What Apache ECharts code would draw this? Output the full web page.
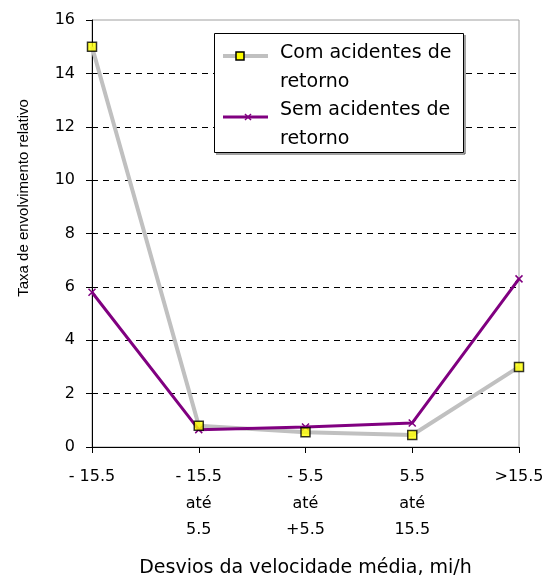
<!DOCTYPE html>
<html><head><meta charset="utf-8">
<script src="https://cdn.jsdelivr.net/npm/echarts@6/dist/echarts.min.js"></script>
<style>html,body{margin:0;padding:0;background:#fff}#c{width:546px;height:577px}</style>
</head><body><div id="c"></div>
<script>
var categories = ['- 15.5', '- 15.5\naté\n5.5', '- 5.5\naté\n+5.5', '5.5\naté\n15.5', '>15.5'];
var comRetorno = [15.0, 0.8, 0.55, 0.45, 3.0];
var semRetorno = [5.8, 0.65, 0.75, 0.9, 6.3];
var yTicks = {min: 0, max: 16, interval: 2};
var seriesNames = ['Com acidentes de\nretorno', 'Sem acidentes de\nretorno'];
var xTitle = 'Desvios da velocidade média, mi/h';
var yTitle = 'Taxa de envolvimento relativo';

var wide = '"DejaVu Sans", sans-serif';
var narrow = '"Liberation Sans", Arial, sans-serif';
var chart = echarts.init(document.getElementById('c'), null, {renderer: 'canvas'});
chart.setOption({
  animation: false,
  backgroundColor: '#fff',
  grid: {left: 92, right: 27, top: 20, bottom: 130, show: true, borderColor: '#a0a0a0', borderWidth: 1,
         containLabel: false, outerBoundsMode: 'none'},
  xAxis: {
    type: 'category', boundaryGap: false, data: categories,
    axisLine: {lineStyle: {color: '#000', width: 1}},
    axisTick: {alignWithLabel: true, length: 6, lineStyle: {color: '#000'}},
    axisLabel: {fontFamily: wide, fontSize: 16, color: '#000', margin: 17, lineHeight: 26.5, interval: 0},
    name: xTitle, nameLocation: 'middle', nameGap: 112,
    nameTextStyle: {fontFamily: wide, fontSize: 19, color: '#000'}
  },
  yAxis: {
    type: 'value', min: yTicks.min, max: yTicks.max, interval: yTicks.interval,
    axisLine: {show: true, lineStyle: {color: '#000', width: 1}},
    axisTick: {show: true, length: 6, lineStyle: {color: '#000'}},
    axisLabel: {fontFamily: wide, fontSize: 16, color: '#000', margin: 17},
    splitLine: {show: true, showMinLine: false, showMaxLine: false, lineStyle: {color: '#000', type: [6, 5], width: 1}},
    name: yTitle, nameLocation: 'middle', nameGap: 61,
    nameTextStyle: {fontFamily: narrow, fontSize: 15, color: '#000', padding: [0, 0, 0, 71]}
  },
  graphic: [
    {type: 'rect', z: 100, shape: {x: 214.5, y: 33.5, width: 249, height: 119}, style: {fill: '#fff', stroke: '#000', lineWidth: 1}},
    {type: 'polyline', z: 101, shape: {points: [[465, 35], [465, 154], [216, 154]]}, style: {fill: null, stroke: '#444', lineWidth: 1}},
    {type: 'line', z: 101, shape: {x1: 223, y1: 56, x2: 268, y2: 56}, style: {stroke: '#c0c0c0', lineWidth: 4}},
    {type: 'rect', z: 102, shape: {x: 236, y: 52, width: 8, height: 8}, style: {fill: '#ffff00', stroke: '#000', lineWidth: 1.5}},
    {type: 'line', z: 101, shape: {x1: 223, y1: 117, x2: 268, y2: 117}, style: {stroke: '#800080', lineWidth: 3}},
    {type: 'polyline', z: 102, shape: {points: [[245, 114], [251, 120]]}, style: {fill: null, stroke: '#800080', lineWidth: 1.5}},
    {type: 'polyline', z: 102, shape: {points: [[251, 114], [245, 120]]}, style: {fill: null, stroke: '#800080', lineWidth: 1.5}},
    {type: 'text', z: 102, left: 280, top: 39, style: {text: seriesNames[0], font: '19px ' + wide, fill: '#000', lineHeight: 29}},
    {type: 'text', z: 102, left: 280, top: 96, style: {text: seriesNames[1], font: '19px ' + wide, fill: '#000', lineHeight: 29}}
  ],
  series: [
    {
      name: seriesNames[0], type: 'line', data: comRetorno, z: 2,
      symbol: 'none',
      lineStyle: {color: '#c0c0c0', width: 4}
    },
    {
      name: seriesNames[1], type: 'line', data: semRetorno, z: 3,
      symbol: 'path://M0,0 L10,10 M10,0 L0,10', symbolSize: 7,
      lineStyle: {color: '#800080', width: 3},
      itemStyle: {color: '#800080', borderColor: '#800080', borderWidth: 1.5}
    },
    {
      name: 'marcadores', type: 'scatter', data: comRetorno, z: 4,
      symbol: 'rect', symbolSize: 9, silent: true,
      itemStyle: {color: '#ffff00', borderColor: '#000', borderWidth: 1.5}
    }
  ]
});
</script></body></html>
